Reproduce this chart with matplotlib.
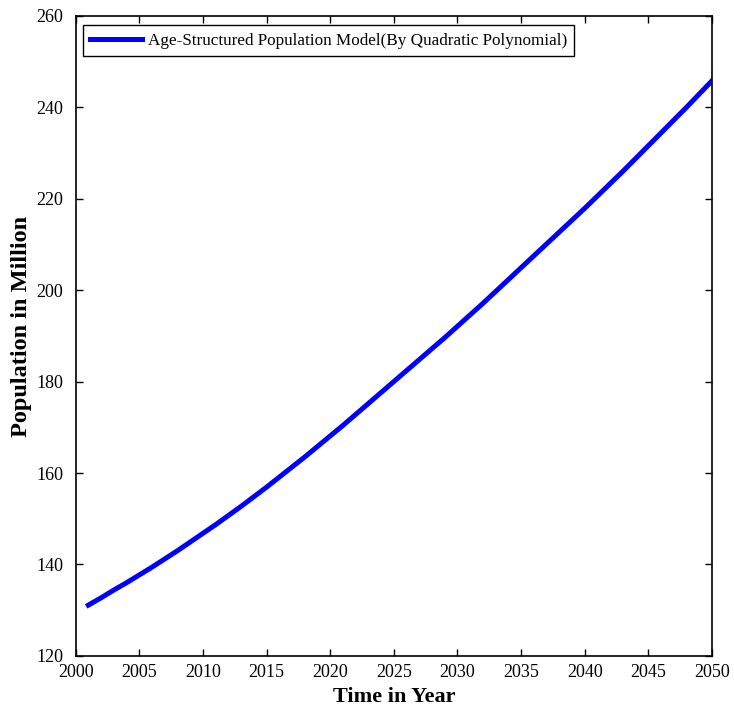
import matplotlib
matplotlib.use("Agg")
import matplotlib.pyplot as plt

plt.rcParams['font.family'] = ['Liberation Serif', 'DejaVu Serif']

years = list(range(2001, 2051))
population = [131.1, 132.7, 134.4, 136.0, 137.7, 139.4, 141.2, 143.0, 144.9, 146.8,
              148.7, 150.7, 152.7, 154.8, 156.9, 159.1, 161.3, 163.5, 165.8, 168.1,
              170.4, 172.8, 175.2, 177.6, 180.0, 182.4, 184.8, 187.2, 189.6, 192.1,
              194.6, 197.1, 199.7, 202.3, 204.9, 207.5, 210.1, 212.7, 215.3, 217.9,
              220.6, 223.3, 226.0, 228.8, 231.6, 234.4, 237.2, 240.0, 242.9, 245.8]
xticks = list(range(2000, 2051, 5))
yticks = list(range(120, 261, 20))
legend_label = "Age-Structured Population Model(By Quadratic Polynomial)"

fig = plt.figure(figsize=(7.34, 7.08), dpi=100)
ax = fig.add_axes([0.103, 0.0736, 0.867, 0.904])

ax.plot(years, population, color=(0, 0, 1), linewidth=3.6, label=legend_label)

ax.set_xlim(2000, 2050)
ax.set_ylim(120, 260)
ax.set_xticks(xticks)
ax.set_yticks(yticks)
ax.tick_params(direction='in', top=True, right=True, length=5, width=1,
               labelsize=13)
ax.tick_params(axis='x', pad=6)
ax.tick_params(axis='y', pad=9)
for s in ax.spines.values():
    s.set_linewidth(1.2)

ax.set_xlabel("Time in Year", fontsize=16, fontweight='bold', labelpad=4)
ax.set_ylabel("Population in Million", fontsize=17.5, fontweight='bold')
ax.yaxis.set_label_coords(-0.069, 0.514)

leg = ax.legend(loc='upper left', bbox_to_anchor=(0.012, 0.985), borderaxespad=0,
                fontsize=12.3, handlelength=3.0, handletextpad=0.35,
                fancybox=False, framealpha=1, edgecolor='black',
                borderpad=0.42)
leg.get_frame().set_linewidth(1.0)

fig.savefig("out.png", dpi=100)
